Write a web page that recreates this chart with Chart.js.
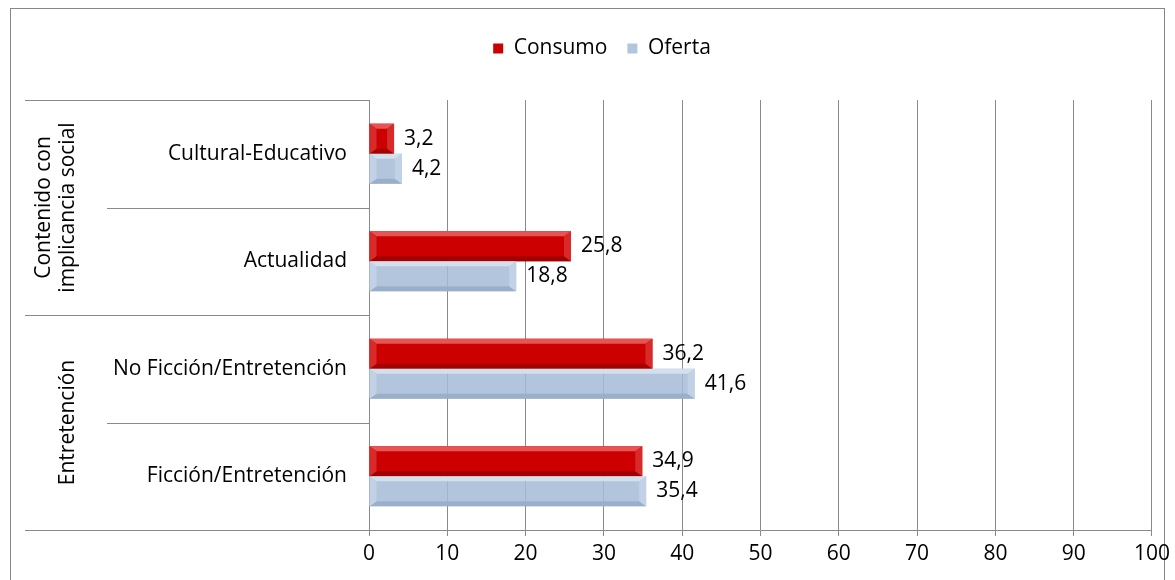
<!DOCTYPE html>
<html>
<head>
<meta charset="utf-8">
<script src="https://cdn.jsdelivr.net/npm/chart.js@4.4.1/dist/chart.umd.min.js"></script>
<style>
  body { margin: 0; background: #fff; }
  #frame { position: absolute; left: 10px; top: 8px; width: 1153px; height: 600px; border: 1px solid #868686; }
  #chart { position: absolute; left: 0; top: 0; }
</style>
</head>
<body>
<div id="frame"></div>
<canvas id="chart" width="1175" height="580"></canvas>
<script>
// ************** Data
const categories = ['Cultural-Educativo', 'Actualidad', 'No Ficción/Entretención', 'Ficción/Entretención'];
const consumo = [3.2, 25.8, 36.2, 34.9];
const oferta = [4.2, 18.8, 41.6, 35.4];
const groupNames = [['Contenido con', 'implicancia social'], ['Entretención']];
const groupSpans = [[0, 1], [2, 3]];
const xMin = 0, xMax = 100, xStep = 10;

const FONT = '"Open Sans", Lato, sans-serif';
const FSIZE = 21;
const gridColor = '#8a8a8a';

// bevel colours: [face, top, bottom, ends]
const bevels = [
    ['#cc0000', '#e65454', '#a30000', '#d92a2a'],
    ['rgba(165,187,214,0.85)', 'rgba(214,226,240,0.9)', 'rgba(150,172,200,0.85)', 'rgba(196,212,232,0.9)']
];

// ************** Plugins
const legendGap = {
    id: 'legendGap',
    beforeInit(chart) {
        const fit = chart.legend.fit;
        chart.legend.fit = function () {
            fit.call(this);
            this.height += 31;
        };
    },
    afterLayout(chart) {
        // nudge legend toward the frame centre
        chart.legend.left += 44;
    }
};

const barDecor = {
    id: 'barDecor',
    afterDatasetsDraw(chart) {
        const ctx = chart.ctx;
        chart.data.datasets.forEach((ds, di) => {
            const meta = chart.getDatasetMeta(di);
            const c = bevels[di];
            meta.data.forEach((bar, i) => {
                const l = Math.min(bar.base, bar.x), r = Math.max(bar.base, bar.x);
                const t = bar.y - bar.height / 2, b = bar.y + bar.height / 2;
                const dv = Math.min(5, bar.height / 2);
                const dh = Math.min(7, (r - l) / 2);
                const poly = (pts, col) => {
                    ctx.beginPath();
                    ctx.moveTo(pts[0][0], pts[0][1]);
                    pts.slice(1).forEach(p => ctx.lineTo(p[0], p[1]));
                    ctx.closePath();
                    ctx.fillStyle = col;
                    ctx.fill();
                };
                ctx.save();
                poly([[l, t], [r, t], [r - dh, t + dv], [l + dh, t + dv]], c[1]);
                poly([[l, b], [r, b], [r - dh, b - dv], [l + dh, b - dv]], c[2]);
                poly([[l, t], [l + dh, t + dv], [l + dh, b - dv], [l, b]], c[3]);
                poly([[r, t], [r - dh, t + dv], [r - dh, b - dv], [r, b]], c[3]);
                // value label
                ctx.fillStyle = '#000';
                ctx.font = FSIZE + 'px ' + FONT;
                ctx.textAlign = 'left';
                ctx.textBaseline = 'middle';
                ctx.fillText(ds.data[i].toFixed(1).replace('.', ','), r + 10, bar.y);
                ctx.restore();
            });
        });
    }
};

const leftFrame = {
    id: 'leftFrame',
    afterDraw(chart) {
        const { ctx, chartArea: ca } = chart;
        const n = categories.length;
        const band = (ca.bottom - ca.top) / n;
        ctx.save();
        ctx.strokeStyle = gridColor;
        ctx.lineWidth = 1;
        for (let k = 0; k <= n; k++) {
            const yy = Math.round(ca.top + k * band) + 0.5;
            const edge = groupSpans.some(s => s[0] === k || s[1] + 1 === k);
            ctx.beginPath();
            ctx.moveTo(edge ? 25 : 107, yy);
            ctx.lineTo(ca.left, yy);
            ctx.stroke();
        }
        // group names, rotated
        ctx.fillStyle = '#000';
        ctx.font = FSIZE + 'px ' + FONT;
        ctx.textAlign = 'center';
        ctx.textBaseline = 'middle';
        groupSpans.forEach((s, gi) => {
            const cy = ca.top + (s[0] + s[1] + 1) / 2 * band;
            const lines = groupNames[gi];
            const cx = 68;
            lines.forEach((txt, li) => {
                const x = cx - (lines.length - 1 - li) * 24;
                ctx.save();
                ctx.translate(x, cy);
                ctx.rotate(-Math.PI / 2);
                ctx.fillText(txt, 0, 0);
                ctx.restore();
            });
        });
        ctx.restore();
    }
};

// ************** Chart
const ctx = document.getElementById('chart').getContext('2d');
new Chart(ctx, {
    type: 'bar',
    data: {
        labels: categories,
        datasets: [{
            label: 'Consumo',
            data: consumo,
            backgroundColor: bevels[0][0],
            borderWidth: 0
        }, {
            label: 'Oferta',
            data: oferta,
            backgroundColor: bevels[1][0],
            borderWidth: 0
        }]
    },
    options: {
        indexAxis: 'y',
        responsive: false,
        animation: false,
        devicePixelRatio: 1,
        categoryPercentage: 0.56,
        barPercentage: 1.0,
        layout: { padding: { left: 0, right: 15, top: 18, bottom: 0 } },
        plugins: {
            tooltip: { enabled: false },
            legend: {
                position: 'top',
                labels: {
                    boxWidth: 10,
                    boxHeight: 10,
                    padding: 20,
                    color: '#000',
                    font: { family: FONT, size: FSIZE }
                }
            }
        },
        scales: {
            x: {
                min: xMin,
                max: xMax,
                ticks: {
                    stepSize: xStep,
                    color: '#000',
                    padding: 5,
                    font: { family: FONT, size: FSIZE }
                },
                grid: { color: gridColor, tickLength: 6, tickColor: gridColor },
                border: { color: gridColor },
                afterFit(scale) { scale.height = 50; }
            },
            y: {
                ticks: {
                    color: '#000',
                    padding: 14,
                    font: { family: FONT, size: FSIZE }
                },
                grid: { display: false },
                border: { color: gridColor },
                afterFit(scale) { scale.width = 369; }
            }
        }
    },
    plugins: [legendGap, barDecor, leftFrame]
});
</script>
</body>
</html>
